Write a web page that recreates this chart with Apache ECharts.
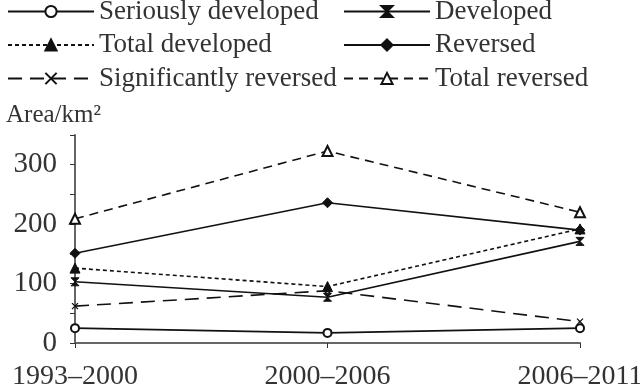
<!DOCTYPE html>
<html>
<head>
<meta charset="utf-8">
<script src="https://cdn.jsdelivr.net/npm/echarts@6/dist/echarts.min.js"></script>
<style>html,body{margin:0;padding:0;background:#fff}#c{width:640px;height:388px}</style>
</head>
<body>
<div id="c"></div>
<script>
var categories = ['1993\u20132000', '2000\u20132006', '2006\u20132011'];
var seriouslyDeveloped = [25, 17, 25];
var developed = [103, 77, 171];
var totalDeveloped = [126, 95, 192];
var reversed = [151, 236, 190];
var significantlyReversed = [62, 88, 36];
var totalReversed = [209, 323, 220];
var yTicks = [0, 100, 200, 300];

var FONT = '"Liberation Serif", "DejaVu Serif", serif';
var INK = '#111';
var chart = echarts.init(document.getElementById('c'));

function mk(name, data, symbol, size, dash, bw) {
  return {
    name: name, type: 'line', data: data,
    symbol: symbol, symbolSize: size,
    lineStyle: { color: INK, width: 1.6, type: dash },
    itemStyle: { color: INK, borderColor: INK, borderWidth: bw },
    emphasis: { disabled: true },
    animation: false
  };
}

var legendCommon = {
  orient: 'vertical',
  itemWidth: 86, itemHeight: 14, itemGap: 6.5,
  textStyle: { fontFamily: FONT, fontSize: 27, color: '#333', lineHeight: 27 },
  selectedMode: false
};

chart.setOption({
  animation: false,
  title: {
    text: 'Area/km\u00b2', left: 1, top: 98,
    textStyle: { fontFamily: FONT, fontSize: 25, fontWeight: 'normal', color: '#333' }
  },
  legend: [
    Object.assign({ left: 7, top: -2, padding: 0, data: ['Seriously developed', 'Total developed', 'Significantly reversed'] }, legendCommon),
    Object.assign({ left: 343, top: -2, padding: 0, data: ['Developed', 'Reversed', 'Total reversed'] }, legendCommon)
  ],
  grid: { left: 75, right: 60, top: 135, bottom: 45, outerBoundsMode: 'none', containLabel: false },
  xAxis: {
    type: 'category', data: categories, boundaryGap: false,
    axisLine: { lineStyle: { color: '#666', width: 2 } },
    axisTick: { show: true, length: 5, lineStyle: { color: '#333' } },
    axisLabel: { fontFamily: FONT, fontSize: 28, color: '#333', margin: 20 }
  },
  yAxis: {
    type: 'value', min: 0, max: 350, interval: 50,
    axisLine: { show: true, lineStyle: { color: '#666', width: 2 } },
    axisTick: { show: true, length: 5, lineStyle: { color: '#333' } },
    splitLine: { show: false },
    axisLabel: {
      fontFamily: FONT, fontSize: 29, color: '#333', margin: 18,
      formatter: function (v) { return yTicks.indexOf(v) >= 0 ? String(v) : ''; }
    }
  },
  series: [
    mk('Seriously developed', seriouslyDeveloped, 'emptyCircle', 8, 'solid', 1.4),
    mk('Developed', developed, 'path://M0,0L10,0L0,10L10,10Z', 8, 'solid', 1),
    mk('Total developed', totalDeveloped, 'triangle', 10, [4, 3], 1),
    mk('Reversed', reversed, 'diamond', 10, 'solid', 1),
    mk('Significantly reversed', significantlyReversed, 'path://M0,0L10,10M10,0L0,10', 6, [14, 8], 1.3),
    mk('Total reversed', totalReversed, 'emptyTriangle', 10, [9, 6], 1.4)
  ]
});
</script>
</body>
</html>
